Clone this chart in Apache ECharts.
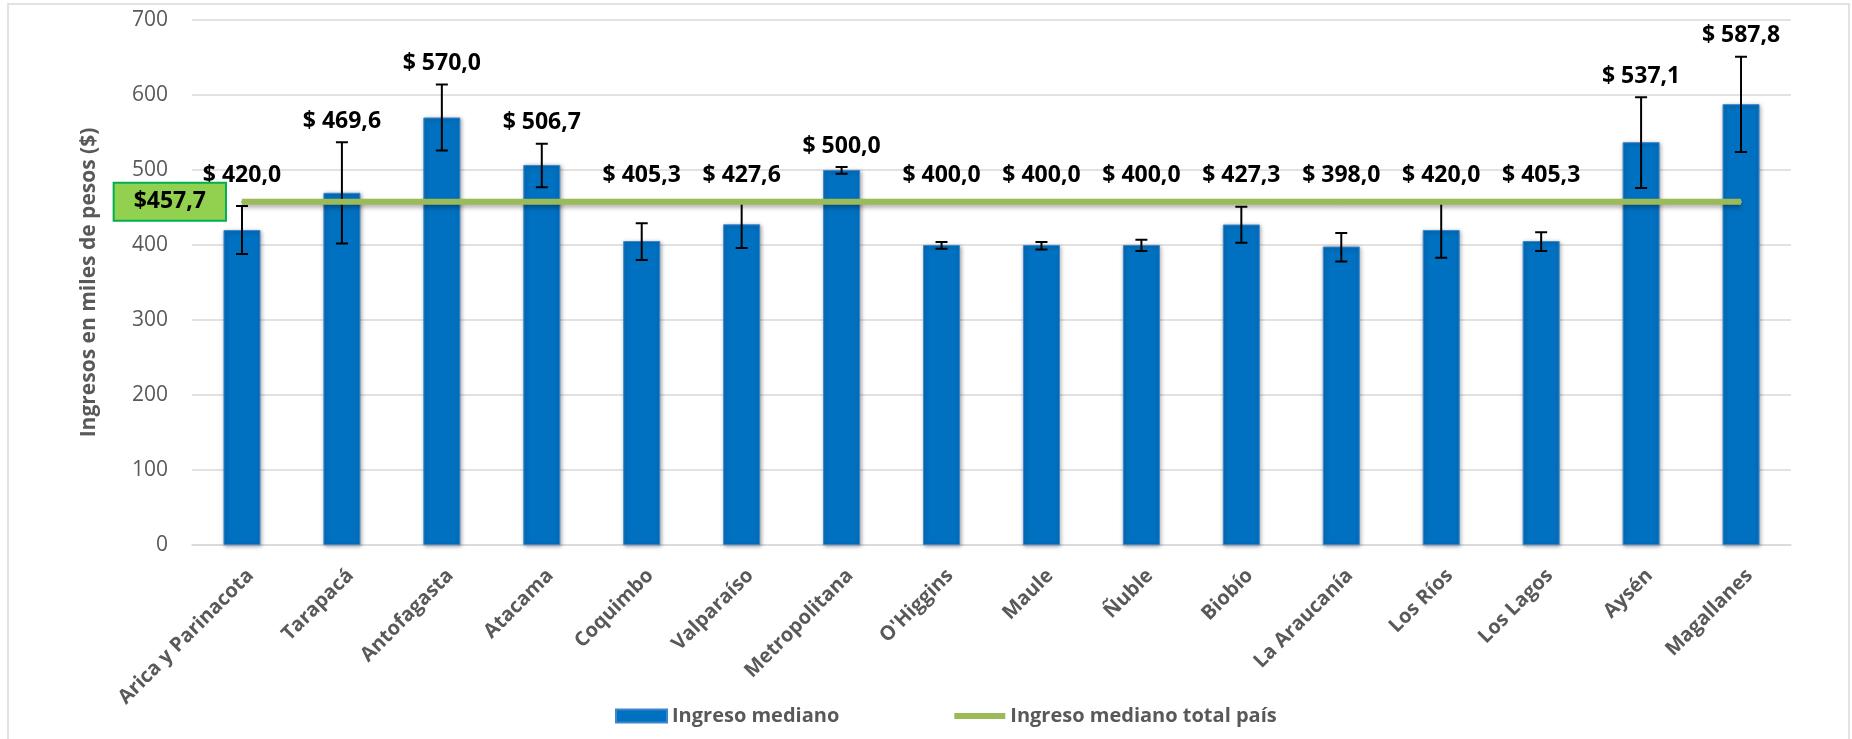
<!DOCTYPE html>
<html><head><meta charset="utf-8">
<script src="https://cdn.jsdelivr.net/npm/echarts@6/dist/echarts.min.js"></script>
<style>html,body{margin:0;padding:0;background:#fff}#c{width:1852px;height:739px}</style>
</head><body><div id="c"></div>
<script>
const categories = ['Arica y Parinacota','Tarapacá','Antofagasta','Atacama','Coquimbo','Valparaíso','Metropolitana',"O'Higgins",'Maule','Ñuble','Biobío','La Araucanía','Los Ríos','Los Lagos','Aysén','Magallanes'];
const medianIncome = [420.0, 469.6, 570.0, 506.7, 405.3, 427.6, 500.0, 400.0, 400.0, 400.0, 427.3, 398.0, 420.0, 405.3, 537.1, 587.8];
const errorLow  = [388, 402, 526, 477, 380, 396, 495, 395, 394, 392, 403, 378, 383, 392, 476, 524];
const errorHigh = [452, 537, 614, 535, 429, 459, 504, 404, 404, 407, 451, 416, 457, 417, 597, 651];
const nationalMedian = 457.7;
const yMin = 0, yMax = 700, yInterval = 100;
const seriesNames = ['Ingreso mediano', 'Ingreso mediano total país'];
const yTitle = 'Ingresos en miles de pesos ($)';

const FONT = '"Open Sans", "Noto Sans", sans-serif';
const fmt = v => v.toFixed(1).replace('.', ',');
const labelFloor = 465;

const chart = echarts.init(document.getElementById('c'), null, {renderer: 'canvas'});

const errData = categories.map((c, i) => [i, errorLow[i], errorHigh[i], medianIncome[i]]);

function renderErr(params, api) {
  const i = api.value(0);
  const lo = api.coord([i, api.value(1)]);
  const hi = api.coord([i, api.value(2)]);
  const anchor = api.coord([i, Math.max(api.value(2), labelFloor)]);
  const cap = 6;
  const st = {stroke: '#000', lineWidth: 2};
  return {
    type: 'group',
    children: [
      {type: 'line', shape: {x1: lo[0], y1: lo[1], x2: hi[0], y2: hi[1]}, style: st},
      {type: 'line', shape: {x1: hi[0] - cap, y1: hi[1], x2: hi[0] + cap, y2: hi[1]}, style: st},
      {type: 'line', shape: {x1: lo[0] - cap, y1: lo[1], x2: lo[0] + cap, y2: lo[1]}, style: st},
      {type: 'text', x: hi[0], y: anchor[1] - 21,
        style: {text: '$ ' + fmt(api.value(3)), fill: '#000', font: 'bold 23px ' + FONT, align: 'center', verticalAlign: 'middle'}}
    ]
  };
}

const lineData = categories.map((c, i) => i === 0 ? {
  value: nationalMedian,
  label: {
    show: true, position: 'left', distance: 16,
    formatter: '$' + fmt(nationalMedian),
    backgroundColor: '#92D050', borderColor: '#00B050', borderWidth: 2,
    padding: [6, 19], color: '#000', fontFamily: FONT, fontWeight: 'bold', fontSize: 23, lineHeight: 24
  }
} : nationalMedian);

chart.setOption({
  animation: false,
  backgroundColor: '#fff',
  graphic: [{
    type: 'rect', silent: true,
    shape: {x: 8, y: 4, width: 1841, height: 760},
    style: {fill: 'none', stroke: '#D9D9D9', lineWidth: 1.5}
  }],
  grid: {left: 192, right: 61, top: 20, bottom: 194, containLabel: false},
  legend: {
    left: 610, top: 701, itemWidth: 51, itemHeight: 13, itemGap: 112,
    textStyle: {color: '#595959', fontFamily: FONT, fontWeight: 'bold', fontSize: 20},
    data: [
      {name: seriesNames[0], icon: 'rect'},
      {name: seriesNames[1], itemStyle: {opacity: 0}, lineStyle: {width: 6, color: '#9BBB59'}}
    ]
  },
  xAxis: {
    type: 'category', data: categories,
    axisLine: {lineStyle: {color: '#D9D9D9', width: 1.5}},
    axisTick: {show: false},
    axisLabel: {interval: 0, rotate: 45, margin: 36, padding: [0, -12, 0, 0],
      color: '#595959', fontFamily: FONT, fontWeight: 'bold', fontSize: 20}
  },
  yAxis: {
    type: 'value', min: yMin, max: yMax, interval: yInterval,
    name: yTitle, nameLocation: 'middle', nameGap: 92,
    nameTextStyle: {color: '#595959', fontFamily: FONT, fontWeight: 'bold', fontSize: 21},
    axisLine: {show: false}, axisTick: {show: false},
    axisLabel: {margin: 24, color: '#595959', fontFamily: FONT, fontSize: 21},
    splitLine: {lineStyle: {color: '#D9D9D9', width: 1.5}}
  },
  series: [
    {
      name: seriesNames[0], type: 'bar', data: medianIncome, barWidth: '37%', z: 2,
      itemStyle: {color: '#0070C0', borderColor: '#3F86CC', borderWidth: 1,
        shadowBlur: 4, shadowColor: 'rgba(0,0,0,0.35)', shadowOffsetX: 1, shadowOffsetY: 1}
    },
    {
      type: 'custom', renderItem: renderErr, data: errData, z: 3,
      encode: {x: 0, y: [1, 2]}
    },
    {
      name: seriesNames[1], type: 'line', data: lineData, z: 5,
      symbol: 'circle', symbolSize: 2, showSymbol: true,
      itemStyle: {color: '#9BBB59'},
      lineStyle: {color: '#9BBB59', width: 6, shadowColor: 'rgba(0,0,0,0.3)', shadowBlur: 4, shadowOffsetY: 3},
      emphasis: {disabled: true}
    }
  ]
});
</script></body></html>
